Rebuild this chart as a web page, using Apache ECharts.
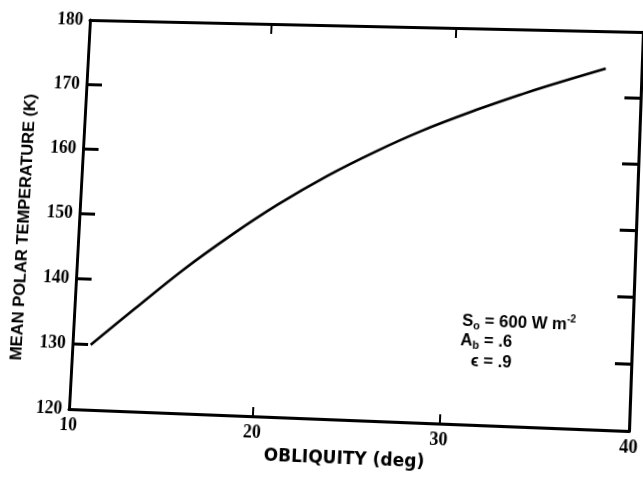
<!DOCTYPE html>
<html>
<head>
<meta charset="utf-8">
<script src="https://cdn.jsdelivr.net/npm/echarts@6/dist/echarts.min.js"></script>
<style>
  html, body { margin: 0; padding: 0; background: #ffffff; overflow: hidden; width: 643px; height: 477px; }
  #chart { width: 690px; height: 477px; transform-origin: 0 0; }
</style>
</head>
<body>
<div id="chart"></div>
<script>
// Data
const obliquity   = [11.0, 13.3, 15.8, 18.4, 20.8, 23.4, 26.0, 28.4, 31.1, 33.7, 35.1, 38.1];
const temperature = [129.9, 135.6, 141.7, 147.4, 152.2, 156.8, 160.8, 164.1, 167.3, 170.1, 171.5, 174.3];
const xTicks = [10, 20, 30, 40];
const yTicks = [120, 130, 140, 150, 160, 170, 180];
const xTitle = 'OBLIQUITY (deg)';
const yTitle = 'MEAN POLAR TEMPERATURE (K)';

const seriesData = obliquity.map((x, i) => [x, temperature[i]]);

// Grid box inside the (slightly wider) drawing surface, before the scan-like skew
const W = 690, H = 477;
const G = { left: 80, top: 30, right: W - 640, bottom: 57 };

// Presentational skew imitating the tilted scan: map the plot-frame corners
// onto where they sit in the reference picture (CSS matrix3d homography).
(function applySkew() {
  const src = [[G.left, G.top], [W - G.right, G.top], [G.left, H - G.bottom], [W - G.right, H - G.bottom]];
  const dst = [[90, 20], [643, 32], [69, 409], [629, 431]];
  const A = [], b = [];
  for (let i = 0; i < 4; i++) {
    const [x, y] = src[i], [u, v] = dst[i];
    A.push([x, y, 1, 0, 0, 0, -u * x, -u * y]); b.push(u);
    A.push([0, 0, 0, x, y, 1, -v * x, -v * y]); b.push(v);
  }
  const n = 8;
  for (let c = 0; c < n; c++) {
    let p = c;
    for (let r = c + 1; r < n; r++) if (Math.abs(A[r][c]) > Math.abs(A[p][c])) p = r;
    [A[c], A[p]] = [A[p], A[c]]; [b[c], b[p]] = [b[p], b[c]];
    for (let r = 0; r < n; r++) {
      if (r === c) continue;
      const f = A[r][c] / A[c][c];
      for (let k = c; k < n; k++) A[r][k] -= f * A[c][k];
      b[r] -= f * b[c];
    }
  }
  const h = b.map((val, i) => val / A[i][i]);
  const m = [h[0], h[3], 0, h[6], h[1], h[4], 0, h[7], 0, 0, 1, 0, h[2], h[5], 0, 1];
  document.getElementById('chart').style.transform = 'matrix3d(' + m.join(',') + ')';
})();

const chart = echarts.init(document.getElementById('chart'), null, { renderer: 'canvas' });

const serif = '"Liberation Serif", "DejaVu Serif", serif';
const sans = '"Liberation Sans", "DejaVu Sans", sans-serif';
const wideSans = '"DejaVu Sans", "Liberation Sans", sans-serif';
const axisLine = { show: true, onZero: false, lineStyle: { color: '#000', width: 3 } };

chart.setOption({
  animation: false,
  backgroundColor: '#ffffff',
  grid: { left: G.left, top: G.top, right: G.right, bottom: G.bottom, containLabel: false, outerBoundsMode: 'none' },
  xAxis: [
    {
      type: 'value', position: 'bottom',
      min: xTicks[0], max: xTicks[xTicks.length - 1], interval: 10,
      axisLine: axisLine,
      axisTick: { show: true, inside: true, length: 9, lineStyle: { color: '#000', width: 2 } },
      axisLabel: { color: '#000', fontFamily: serif, fontWeight: 'bold', fontSize: 18, margin: 7 },
      splitLine: { show: false },
      name: xTitle, nameLocation: 'middle', nameGap: 30,
      nameTextStyle: { color: '#000', fontFamily: wideSans, fontWeight: 'bold', fontSize: 17 }
    },
    {
      type: 'value', position: 'top',
      min: xTicks[0], max: xTicks[xTicks.length - 1], interval: 10,
      axisLine: axisLine,
      axisTick: { show: true, inside: true, length: 10, lineStyle: { color: '#000', width: 2 } },
      axisLabel: { show: false },
      splitLine: { show: false }
    }
  ],
  yAxis: [
    {
      type: 'value', position: 'left',
      min: yTicks[0], max: yTicks[yTicks.length - 1], interval: 10,
      axisLine: axisLine,
      axisTick: { show: true, inside: true, length: 16, lineStyle: { color: '#000', width: 3 } },
      axisLabel: { color: '#000', fontFamily: serif, fontWeight: 'bold', fontSize: 18, margin: 7 },
      splitLine: { show: false },
      name: yTitle, nameLocation: 'middle', nameGap: 48, nameRotate: 90,
      nameTextStyle: { color: '#000', fontFamily: sans, fontWeight: 'bold', fontSize: 16.5, padding: [0, 30, 0, 0] }
    },
    {
      type: 'value', position: 'right',
      min: yTicks[0], max: yTicks[yTicks.length - 1], interval: 10,
      axisLine: axisLine,
      axisTick: { show: true, inside: true, length: 16, lineStyle: { color: '#000', width: 3 } },
      axisLabel: { show: false },
      splitLine: { show: false }
    }
  ],
  series: [
    {
      type: 'line',
      xAxisIndex: 0, yAxisIndex: 0,
      data: seriesData,
      smooth: 0.35,
      showSymbol: false,
      lineStyle: { color: '#000', width: 2.6 }
    }
  ],
  graphic: [
    {
      type: 'text', left: 472, top: 309,
      style: {
        text: '{m|S}{sub|o}{m| = 600 W }{m|m}{sup|-2}',
        rich: {
          m:   { fontFamily: sans, fontWeight: 'bold', fontSize: 16.5, lineHeight: 20, verticalAlign: 'middle', fill: '#000' },
          sub: { fontFamily: sans, fontWeight: 'bold', fontSize: 11, lineHeight: 9, verticalAlign: 'bottom', fill: '#000' },
          sup: { fontFamily: sans, fontWeight: 'bold', fontSize: 10, lineHeight: 10, verticalAlign: 'top', fill: '#000' }
        }
      }
    },
    {
      type: 'text', left: 471, top: 330,
      style: {
        text: '{m|A}{sub|b}{m| = .6}',
        rich: {
          m:   { fontFamily: sans, fontWeight: 'bold', fontSize: 16.5, lineHeight: 20, verticalAlign: 'middle', fill: '#000' },
          sub: { fontFamily: sans, fontWeight: 'bold', fontSize: 11, lineHeight: 9, verticalAlign: 'bottom', fill: '#000' }
        }
      }
    },
    {
      type: 'text', left: 482, top: 350,
      style: {
        text: '{m|ϵ = .9}',
        rich: {
          m: { fontFamily: sans, fontWeight: 'bold', fontSize: 16.5, lineHeight: 20, verticalAlign: 'middle', fill: '#000' }
        }
      }
    }
  ]
});
</script>
</body>
</html>
